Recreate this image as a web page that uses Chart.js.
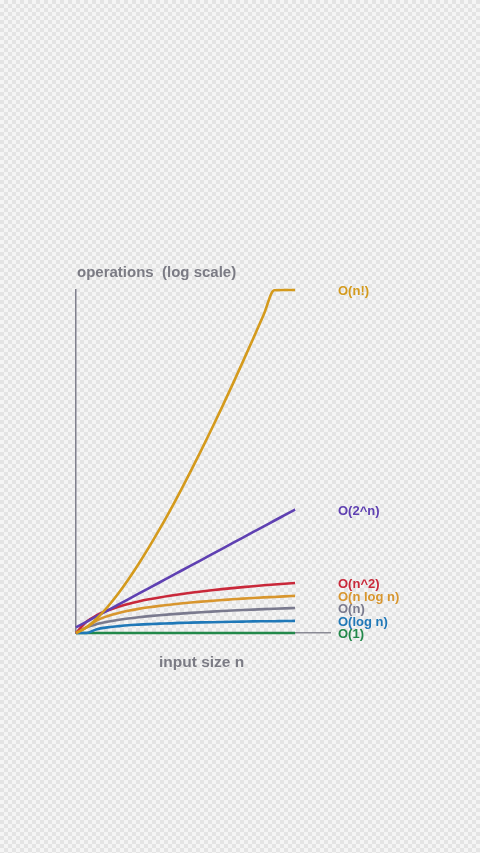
<!DOCTYPE html>
<html>
<head>
<meta charset="utf-8">
<script src="https://cdn.jsdelivr.net/npm/chart.js@4.4.1/dist/chart.umd.min.js"></script>
<style>
  html, body {
    margin: 0;
    padding: 0;
    width: 480px;
    height: 853px;
    overflow: hidden;
    background-color: #f5f5f5;
    background-image: conic-gradient(#e4e4e4 25%, transparent 0 50%, #e4e4e4 0 75%, transparent 0);
    background-size: 8px 8px;
  }
  #wrap { position: absolute; left: 0; top: 0; width: 480px; height: 853px; }
  .lbl {
    position: absolute;
    font-family: "Liberation Sans", Arial, sans-serif;
    font-weight: bold;
    color: #7b7b84;
    white-space: pre;
  }
  #ytitle { left: 77px; top: 263px; font-size: 15px; }
  #xtitle { left: 159px; top: 653px; font-size: 15.5px; }
</style>
</head>
<body>
<div id="wrap"><canvas id="chart"></canvas></div>
<div class="lbl" id="ytitle">operations  (log scale)</div>
<div class="lbl" id="xtitle">input size n</div>
<script>
// DATA
const n_values = [1, 2, 3, 4, 5, 6, 7, 8, 9, 10, 11, 12, 13, 14, 15, 16, 17, 18, 19, 20, 21, 22];

const o1 = [1, 1, 1, 1, 1, 1, 1, 1, 1, 1, 1, 1, 1, 1, 1, 1, 1, 1, 1, 1, 1, 1];
const o_log_n = [1, 1, 1.6, 2, 2.3, 2.6, 2.8, 3, 3.2, 3.3, 3.5, 3.6, 3.7, 3.8, 3.9, 4, 4.1, 4.2, 4.25, 4.3, 4.4, 4.45];
const o_n = [1, 2, 3, 4, 5, 6, 7, 8, 9, 10, 11, 12, 13, 14, 15, 16, 17, 18, 19, 20, 21, 22];
const o_n_log_n = [1, 2, 4.8, 8, 11.6, 15.5, 19.7, 24, 28.5, 33, 38, 43, 48, 53, 59, 64, 70, 75, 81, 86, 92, 98];
const o_n2 = [1, 4, 9, 16, 25, 36, 49, 64, 81, 100, 121, 144, 169, 196, 225, 256, 289, 324, 361, 400, 441, 484];
const o_2n = [2, 4, 8, 16, 32, 64, 128, 256, 512, 1024, 2048, 4096, 8192, 16384, 32768, 65536, 131072, 262144, 524288, 1.05e6, 2.1e6, 4.2e6];
const o_fact = [1, 2, 6, 24, 120, 720, 5040, 40320, 3.6e5, 3.6e6, 4e7, 4.8e8, 6.2e9, 8.7e10, 1.3e12, 2.1e13, 3.6e14, 6.4e15, 1.2e17, 2.4e18, 2.5e18, 2.5e18];

const series_names = ["O(n!)", "O(2^n)", "O(n^2)", "O(n log n)", "O(n)", "O(log n)", "O(1)"];
const series_data = [o_fact, o_2n, o_n2, o_n_log_n, o_n, o_log_n, o1];
const series_colors = ["#d49a1c", "#5f40b2", "#c9283a", "#d8962e", "#7a7a8e", "#1f78b8", "#22884a"];

const Y_MAX = 2.5e18;

// right side labels next to line ends
const endLabels = {
  id: "endLabels",
  afterDatasetsDraw(chart) {
    const c = chart.ctx;
    const y = chart.scales.y;
    c.save();
    c.font = "bold 13px 'Liberation Sans', Arial, sans-serif";
    c.textBaseline = "middle";
    let lastY = null;
    // bottom up, keep labels from overlapping
    for (let i = series_names.length - 1; i >= 0; i--) {
      const d = series_data[i];
      let py = y.getPixelForValue(Math.min(d[d.length - 1], Y_MAX)) + 1.5;
      if (lastY !== null && lastY - py < 12.2) py = lastY - 12.2;
      lastY = py;
      c.fillStyle = series_colors[i];
      c.fillText(series_names[i], 338, py);
    }
    c.restore();
  },
};

const ctx = document.getElementById("chart").getContext("2d");

new Chart(ctx, {
  type: "line",
  data: {
    datasets: series_names.map((name, i) => ({
      label: name,
      data: n_values.map((n, k) => ({ x: n, y: series_data[i][k] })),
      borderColor: series_colors[i],
      backgroundColor: series_colors[i],
      borderWidth: 2.6,
      pointRadius: 0,
      fill: false,
      cubicInterpolationMode: "monotone",
      clip: false,
    })),
  },
  options: {
    responsive: true,
    maintainAspectRatio: false,
    animation: false,
    layout: { padding: { left: 76, top: 290, right: 150, bottom: 220 } },
    plugins: {
      legend: { display: false },
      tooltip: { enabled: false },
    },
    scales: {
      x: {
        type: "linear",
        min: 1,
        max: 25.35,
        ticks: { display: false },
        grid: { display: false, drawTicks: false },
        border: { display: true, color: "#8a8a94", width: 1.5 },
      },
      y: {
        type: "logarithmic",
        min: 1,
        max: Y_MAX,
        ticks: { display: false },
        grid: { display: false, drawTicks: false },
        border: { display: true, color: "#7f7f8c", width: 1.5 },
      },
    },
  },
  plugins: [endLabels],
});
</script>
</body>
</html>
